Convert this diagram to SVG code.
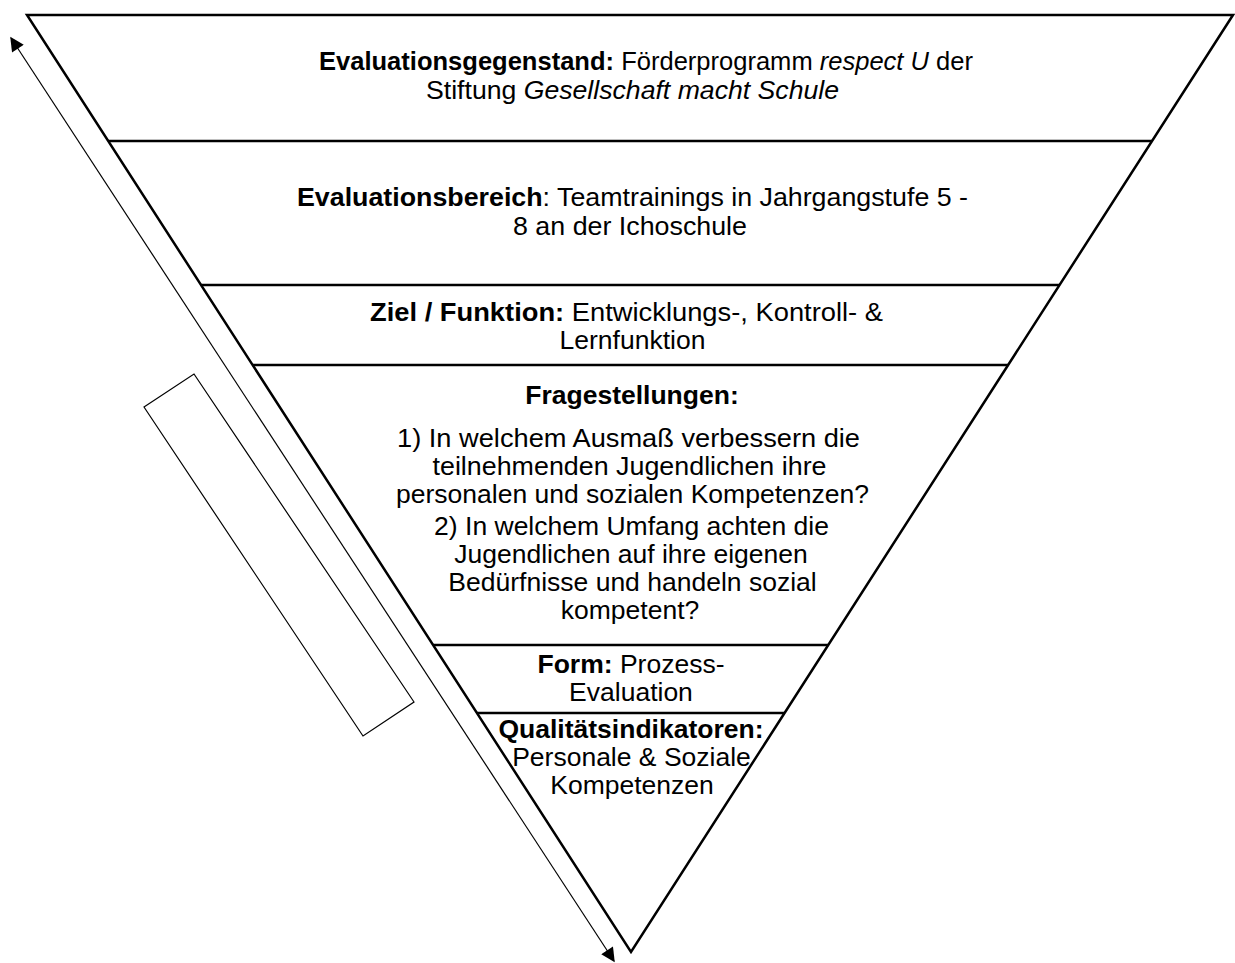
<svg xmlns="http://www.w3.org/2000/svg" width="1235" height="963" viewBox="0 0 1235 963">
<style>
.t{font-family:"Liberation Sans",Arial,sans-serif;font-size:26.5px;fill:#000;text-anchor:middle}
.n{font-family:"Liberation Sans Narrow","Liberation Sans",Arial,sans-serif;font-size:26px;fill:#000;text-anchor:middle}
.b{font-weight:bold}
.i{font-style:italic}
.edge{stroke:#000;stroke-width:2.5;fill:none}
.thin{stroke:#000;stroke-width:1.2;fill:none}
</style>
<defs>
<marker id="ah" viewBox="0 0 10 10" refX="9" refY="5" markerWidth="15" markerHeight="14" markerUnits="userSpaceOnUse" orient="auto-start-reverse">
<path d="M0,0 L10,5 L0,10 z" fill="#000"/>
</marker>
</defs>
<rect width="1235" height="963" fill="#fff"/>
<g id="triangle">
<polygon class="edge" points="27,15 1233,15 631,952" stroke-linejoin="miter"/>
<line class="edge" x1="108.2" y1="141" x2="1152" y2="141"/>
<line class="edge" x1="201" y1="285" x2="1059.5" y2="285"/>
<line class="edge" x1="252.6" y1="365" x2="1008.1" y2="365"/>
<line class="edge" x1="433.1" y1="645" x2="828.2" y2="645"/>
<line class="edge" x1="476.9" y1="713" x2="784.6" y2="713"/>
</g>
<g id="level1">
<text class="n" x="646" y="70" textLength="654" lengthAdjust="spacingAndGlyphs"><tspan class="b">Evaluationsgegenstand:</tspan> Förderprogramm <tspan class="i">respect U</tspan> der</text>
<text class="n" x="632.5" y="99" textLength="413" lengthAdjust="spacingAndGlyphs">Stiftung <tspan class="i">Gesellschaft macht Schule</tspan></text>
</g>
<g id="level2">
<text class="n" x="632.5" y="206" textLength="671" lengthAdjust="spacingAndGlyphs"><tspan class="b">Evaluationsbereich</tspan>: Teamtrainings in Jahrgangstufe 5 -</text>
<text class="n" x="630" y="235" textLength="234" lengthAdjust="spacingAndGlyphs">8 an der Ichoschule</text>
</g>
<g id="level3">
<text class="t" x="626.5" y="321" textLength="513" lengthAdjust="spacingAndGlyphs"><tspan class="b">Ziel / Funktion:</tspan> Entwicklungs-, Kontroll- &amp;</text>
<text class="t" x="632.5" y="349">Lernfunktion</text>
</g>
<g id="level4">
<text class="t b" x="632" y="404">Fragestellungen:</text>
<text class="t" x="628.5" y="447" textLength="463" lengthAdjust="spacingAndGlyphs">1) In welchem Ausmaß verbessern die</text>
<text class="t" x="629.5" y="475" textLength="394" lengthAdjust="spacingAndGlyphs">teilnehmenden Jugendlichen ihre</text>
<text class="t" x="632.5" y="503">personalen und sozialen Kompetenzen?</text>
<text class="t" x="631.5" y="535">2) In welchem Umfang achten die</text>
<text class="t" x="631" y="563">Jugendlichen auf ihre eigenen</text>
<text class="t" x="632.5" y="591">Bedürfnisse und handeln sozial</text>
<text class="t" x="630" y="619">kompetent?</text>
</g>
<g id="level5">
<text class="t" x="631" y="673"><tspan class="b">Form:</tspan> Prozess-</text>
<text class="t" x="631" y="701">Evaluation</text>
</g>
<g id="level6">
<text class="t b" x="631" y="738">Qualitätsindikatoren:</text>
<text class="t" x="631.5" y="766">Personale &amp; Soziale</text>
<text class="t" x="632" y="794">Kompetenzen</text>
</g>
<g id="box">
<polygon class="thin" points="144,407 194,374 414,702 363,736"/>
</g>
<g id="connectors">
<line class="thin" x1="11" y1="38" x2="614" y2="961" marker-start="url(#ah)" marker-end="url(#ah)"/>
</g>
</svg>
